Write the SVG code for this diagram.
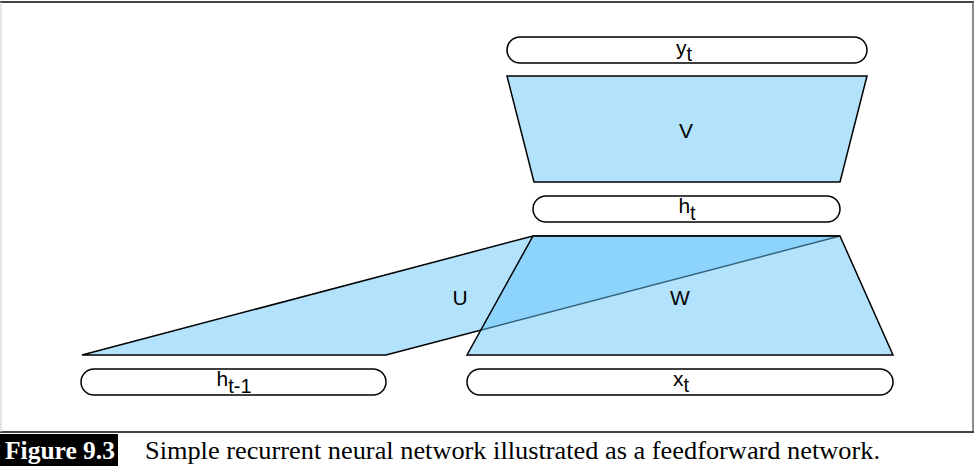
<svg xmlns="http://www.w3.org/2000/svg" width="975" height="468" viewBox="0 0 975 468">
<style>
.pill{fill:#fff;stroke:#000;stroke-width:1.5}
.lay{fill:rgb(101,197,249);fill-opacity:0.5;stroke:#000;stroke-width:1.5;stroke-linejoin:miter}
.lbl{font-family:"Liberation Sans",Arial,sans-serif;font-size:21px;fill:#000}
.sub{font-size:20px}
.cap{font-family:"Liberation Serif","Times New Roman",serif;font-size:25px}
</style>
<rect x="0" y="0" width="975" height="468" fill="#fff"/>
<g id="frame">
<line x1="0" y1="2" x2="974" y2="2" stroke="#444" stroke-width="2"/>
<line x1="973" y1="2" x2="973" y2="433" stroke="#666" stroke-width="1.5"/>
<line x1="0" y1="432" x2="974" y2="432" stroke="#444" stroke-width="2"/>
<line x1="1" y1="2" x2="1" y2="432" stroke="#ccc" stroke-width="1"/>
</g>
<g id="connectors">
<polygon id="U" class="lay" points="82,355 386,355 840,236 533,236"/>
<polygon id="W" class="lay" points="533,236 840,236 893,355 467,355"/>
<polygon id="V" class="lay" points="507,76 867,76 840,182 534,182"/>
</g>
<g id="yt"><rect class="pill" x="507" y="37" width="360" height="26" rx="13"/>
<text class="lbl" x="684" y="55" text-anchor="middle">y<tspan class="sub" dy="6">t</tspan></text></g>
<g id="ht"><rect class="pill" x="533" y="196" width="307" height="26" rx="13"/>
<text class="lbl" x="687" y="213" text-anchor="middle">h<tspan class="sub" dy="7">t</tspan></text></g>
<g id="htm1"><rect class="pill" x="81" y="369" width="305" height="26" rx="13"/>
<text class="lbl" x="234" y="386" text-anchor="middle">h<tspan class="sub" dy="7">t-1</tspan></text></g>
<g id="xt"><rect class="pill" x="467" y="369" width="426" height="26" rx="13"/>
<text class="lbl" x="681" y="386" text-anchor="middle">x<tspan class="sub" dy="6">t</tspan></text></g>
<g id="labels">
<text class="lbl" x="686" y="138" text-anchor="middle">V</text>
<text class="lbl" x="460" y="305" text-anchor="middle">U</text>
<text class="lbl" x="680" y="305" text-anchor="middle">W</text>
</g>
<g id="caption">
<rect x="0" y="434" width="118" height="32" fill="#000"/>
<text class="cap" x="5" y="459" fill="#fff" font-weight="bold" textLength="110" lengthAdjust="spacingAndGlyphs">Figure 9.3</text>
<text class="cap" x="145" y="459" fill="#000" textLength="735" lengthAdjust="spacingAndGlyphs">Simple recurrent neural network illustrated as a feedforward network.</text>
</g>
</svg>
